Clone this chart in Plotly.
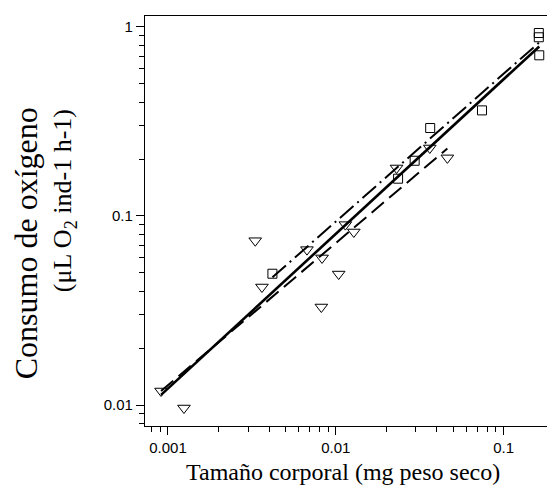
import numpy as np
import plotly.graph_objects as go

# --- data ---
square_x = [0.00419, 0.0235, 0.0295, 0.0365, 0.0743, 0.162, 0.162, 0.163]
square_y = [0.0495, 0.1575, 0.196, 0.292, 0.362, 0.929, 0.882, 0.708]

tri_x = [0.000909, 0.001245, 0.00331, 0.00363, 0.00673, 0.00828, 0.00820,
         0.0104, 0.0114, 0.0128, 0.0230, 0.0363, 0.0462]
tri_y = [0.01186, 0.00964, 0.074, 0.0421, 0.0664, 0.060, 0.033,
         0.0493, 0.090, 0.0823, 0.1795, 0.229, 0.203]

# regression lines: log10(y) = intercept + slope * log10(x)
fit_all = (0.5415, 0.818)
fit_squares = (0.534, 0.7817)
fit_triangles = (0.361, 0.752)

x_ticks = [0.001, 0.01, 0.1]
x_ticktext = ["0.001", "0.01", "0.1"]
y_ticks = [0.01, 0.1, 1]
y_ticktext = ["0.01", "0.1", "1"]
x_minor = [0.0007, 0.0008, 0.0009] + [k * 0.001 for k in range(2, 10)] + [k * 0.01 for k in range(2, 10)]
y_minor = [0.008, 0.009] + [k * 0.01 for k in range(2, 10)] + [k * 0.1 for k in range(2, 10)]

x_title = "Tamaño corporal (mg peso seco)"
y_title_1 = "Consumo de oxígeno"
y_title_2 = "(μL O<sub>2</sub> ind-1 h-1)"


def fit_line(xs, coef):
    lo, hi = min(xs), max(xs)
    xx = np.logspace(np.log10(lo), np.log10(hi), 50)
    yy = 10 ** (coef[0] + coef[1] * np.log10(xx))
    return xx, yy


fig = go.Figure()

fig.add_trace(go.Scatter(
    x=square_x, y=square_y, mode="markers",
    marker=dict(symbol="square-open", size=9, color="black", line=dict(width=1)),
    showlegend=False))
fig.add_trace(go.Scatter(
    x=tri_x, y=tri_y, mode="markers",
    marker=dict(symbol="triangle-down-open", size=11, color="black", line=dict(width=1)),
    showlegend=False))

xx, yy = fit_line(tri_x, fit_triangles)
fig.add_trace(go.Scatter(x=xx, y=yy, mode="lines",
                         line=dict(color="black", width=2, dash="16px,7px"), showlegend=False))
xx, yy = fit_line(square_x, fit_squares)
fig.add_trace(go.Scatter(x=xx, y=yy, mode="lines",
                         line=dict(color="black", width=2, dash="18px,5px,2px,5px"), showlegend=False))
xx, yy = fit_line(square_x + tri_x, fit_all)
fig.add_trace(go.Scatter(x=xx, y=yy, mode="lines",
                         line=dict(color="black", width=2.6), showlegend=False))

tick_font = dict(family="Liberation Sans, Arial, sans-serif", size=15, color="black")
title_font = dict(family="Liberation Serif, Times New Roman, serif", size=24, color="black")

fig.update_xaxes(
    type="log", range=[-3.137, -0.694],
    tickmode="array", tickvals=x_ticks, ticktext=x_ticktext,
    ticks="outside", ticklen=8, tickwidth=1, tickcolor="black",
    minor=dict(tickmode="array", tickvals=x_minor, ticks="outside", ticklen=5, tickwidth=1, tickcolor="black"),
    showline=True, linecolor="black", linewidth=1.2, mirror=True,
    showgrid=False, zeroline=False, tickfont=tick_font,
)
fig.update_yaxes(
    type="log", range=[-2.111, 0.058],
    tickmode="array", tickvals=y_ticks, ticktext=y_ticktext,
    ticks="outside", ticklen=8, tickwidth=1, tickcolor="black",
    minor=dict(tickmode="array", tickvals=y_minor, ticks="outside", ticklen=5, tickwidth=1, tickcolor="black"),
    showline=True, linecolor="black", linewidth=1.2, mirror=True,
    showgrid=False, zeroline=False, tickfont=tick_font,
)

fig.add_annotation(text=x_title, xref="paper", yref="paper",
                   x=0.483, y=-0.112, showarrow=False, font=title_font,
                   xanchor="center", yanchor="middle")

ytitle_font = dict(family="Liberation Serif, Times New Roman, serif", size=32, color="black")
ytitle_font2 = dict(family="Liberation Serif, Times New Roman, serif", size=26, color="black")
fig.add_annotation(text=y_title_1, textangle=-90, xref="paper", yref="paper",
                   x=-0.29, y=0.446, showarrow=False, font=ytitle_font,
                   xanchor="center", yanchor="middle")
fig.add_annotation(text=y_title_2, textangle=-90, xref="paper", yref="paper",
                   x=-0.197, y=0.549, showarrow=False, font=ytitle_font2,
                   xanchor="center", yanchor="middle")

fig.update_layout(
    width=555, height=495,
    margin=dict(l=137, r=8, t=8, b=77),
    paper_bgcolor="white", plot_bgcolor="white",
)

fig.write_html("out.html")
